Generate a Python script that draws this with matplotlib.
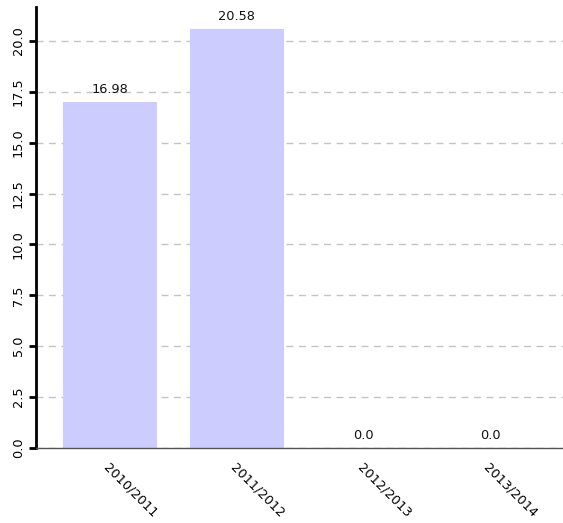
import matplotlib
matplotlib.use("Agg")
import matplotlib.pyplot as plt

categories = ["2010/2011", "2011/2012", "2012/2013", "2013/2014"]
values = [16.98, 20.58, 0.0, 0.0]
labels = ["16.98", "20.58", "0.0", "0.0"]

fig = plt.figure(figsize=(5.63, 5.23), dpi=100)
ax = fig.add_axes([0.064, 0.1434, 0.936, 0.8432])
x = range(len(categories))
bars = ax.bar(x, values, width=0.73, color="#ccccff", edgecolor="#ccccff", linewidth=0.8, zorder=2)
for b, t in zip(bars, labels):
    ax.text(b.get_x() + b.get_width() / 2, b.get_height() + 0.3, t,
            ha="center", va="bottom", fontsize=9.3, color="#111111")
ax.set_xlim(-0.58, 3.57)
ax.set_ylim(0, 21.67)
ax.set_yticks([0, 2.5, 5, 7.5, 10, 12.5, 15, 17.5, 20])
ax.set_yticklabels(["0.0", "2.5", "5.0", "7.5", "10.0", "12.5", "15.0", "17.5", "20.0"],
                   rotation=90, va="center", fontsize=9.3)
ax.set_xticks(list(x))
ax.set_xticklabels(categories, rotation=-45, ha="left", rotation_mode="anchor", fontsize=9.3)
ax.grid(axis="y", color="#c4c4c4", linestyle=(0, (5, 4)), linewidth=1, zorder=0)
for s in ["top", "right"]:
    ax.spines[s].set_visible(False)
ax.spines["left"].set_linewidth(2)
ax.spines["left"].set_color("black")
ax.spines["bottom"].set_linewidth(1)
ax.spines["bottom"].set_color("#555555")
ax.tick_params(axis="y", length=5, width=2, color="black", pad=3)
ax.tick_params(axis="x", length=0, pad=9)
fig.savefig("out.png", dpi=100)
